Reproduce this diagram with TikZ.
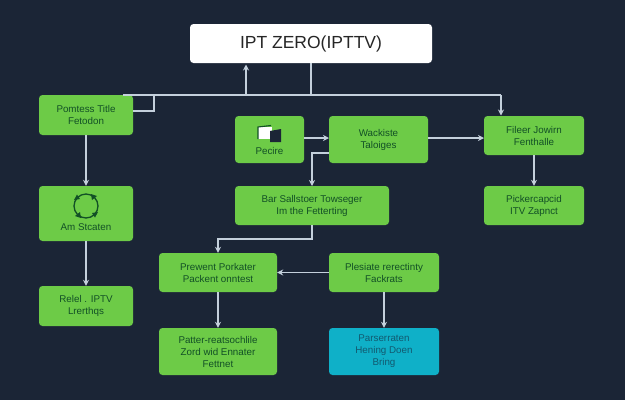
\documentclass[tikz,border=0pt]{standalone}
\usepackage{fontspec}
\setmainfont{Liberation Sans}
\usetikzlibrary{arrows.meta,calc}
\definecolor{bgc}{HTML}{1B2536}
\definecolor{grn}{HTML}{6DCB47}
\definecolor{txg}{HTML}{125026}
\definecolor{teal}{HTML}{0FB0C8}
\definecolor{txt}{HTML}{125A70}
\definecolor{lnc}{HTML}{C4D0DC}
\tikzset{
  x=1pt,y=-1pt,
  base/.style={rounded corners=3.5pt,inner sep=0pt,align=center,font=\fontsize{9.8}{12}\selectfont},
  gbox/.style={base,fill=grn,text=txg},
  tbox/.style={base,fill=teal,text=txt},
  lab/.style={inner sep=0pt,align=center,text=txg,font=\fontsize{9.8}{12}\selectfont},
  conn/.style={draw=lnc,line width=1.3pt},
  arr/.style={conn,-{Stealth[length=6pt,width=6pt]}},
}
\newcommand{\boxat}[7]{\node[#1,minimum width=#5pt,minimum height=#6pt] (#2) at (#3,#4) {#7};}
\begin{document}
\begin{tikzpicture}
\useasboundingbox[fill=bgc] (0,0) rectangle (625,400);
\node[base,fill=white,text=black!85,minimum width=242pt,minimum height=39pt,font=\fontsize{17.5}{20}\selectfont] (title) at (311,43.5) {IPT ZERO(IPTTV)};
\boxat{gbox}{a}{86}{115}{94}{40}{Pomtess Title\\Fetodon}
\boxat{gbox}{pec}{269.5}{139.5}{69}{47}{}
\node[lab] (peclab) at (269.5,150.5) {Pecire};
\boxat{gbox}{wack}{378.5}{139.5}{99}{47}{Wackiste\\Taloiges}
\boxat{gbox}{fil}{534}{135.5}{100}{39}{Fileer Jowirn\\Fenthalle}
\boxat{gbox}{pick}{534}{205.5}{100}{39}{Pickercapcid\\ITV Zapnct}
\boxat{gbox}{bar}{312}{205.5}{154}{39}{Bar Sallstoer Towseger\\Im the Fetterting}
\boxat{gbox}{am}{86}{213.5}{94}{55}{}
\node[lab] (amlab) at (86,227.5) {Am Stcaten};
\boxat{gbox}{rel}{86}{306}{94}{40}{Relel . IPTV\\Lrerthqs}
\boxat{gbox}{prew}{218}{272.5}{118}{39}{Prewent Porkater\\Packent onntest}
\boxat{gbox}{ples}{384}{272.5}{110}{39}{Plesiate rerectinty\\Fackrats}
\boxat{gbox}{pat}{218}{351.5}{118}{47}{Patter-reatsochlile\\Zord wid Ennater\\Fettnet}
\boxat{tbox}{par}{384}{351.5}{110}{47}{Parserraten\\Hening Doen\\Bring}

% icons
\fill[white] (258,127) rectangle (272,139);
\draw[txg,line width=1.1pt] (258,139) -- (258,127) -- (271,125.5);
\fill[bgc] (270,131) -- (281,129) -- (281,142) -- (270,142) -- cycle;
\draw[txg,line width=1.3pt] (86,206) circle (12pt);
\fill[txg] (97,196) -- (91,194) -- (92,200) -- cycle;
\fill[txg] (75,216) -- (81,218) -- (80,212) -- cycle;
\fill[txg] (74,200) -- (80,199) -- (77,194.5) -- cycle;
\fill[txg] (98,212) -- (92,213) -- (95,217.5) -- cycle;

% bus
\coordinate (busl) at (123,95);
\coordinate (busr) at (501,95);
\coordinate (filin) at (501,115.5);
\coordinate (busup) at (246,95);
\coordinate (titleup) at (246,64.5);
\coordinate (busa) at (154,95);
\coordinate (aout) at (133,111);
\coordinate (titledown) at (311,95);
\draw[conn] (busl) -- (busr);
\draw[arr] (busr) -- (filin);
\draw[arr] (busup) -- (titleup);
\draw[conn] (aout) -| (busa);
\draw[conn] (title.south) -- (titledown);

\draw[arr] (a.south) -- (am.north);
\draw[arr] (am.south) -- (rel.north);
\coordinate (pout) at (304,138);
\coordinate (win) at (329,138);
\coordinate (wout2) at (428,138);
\coordinate (fin) at (484,138);
\draw[arr] (pout) -- (win);
\draw[arr] (wout2) -- (fin);
\coordinate (wout) at (329,153);
\coordinate (bin) at (312,186);
\draw[arr] (wout) -| (bin);
\draw[arr] (fil.south) -- (pick.north);
\coordinate (mid) at (312,239);
\coordinate (mid2) at (218,239);
\draw[arr] (bar.south) -- (mid) -- (mid2) -- (prew.north);
\draw[arr] (ples.west) -- (prew.east);
\draw[arr] (prew.south) -- (pat.north);
\draw[arr] (ples.south) -- (par.north);
\end{tikzpicture}
\end{document}
